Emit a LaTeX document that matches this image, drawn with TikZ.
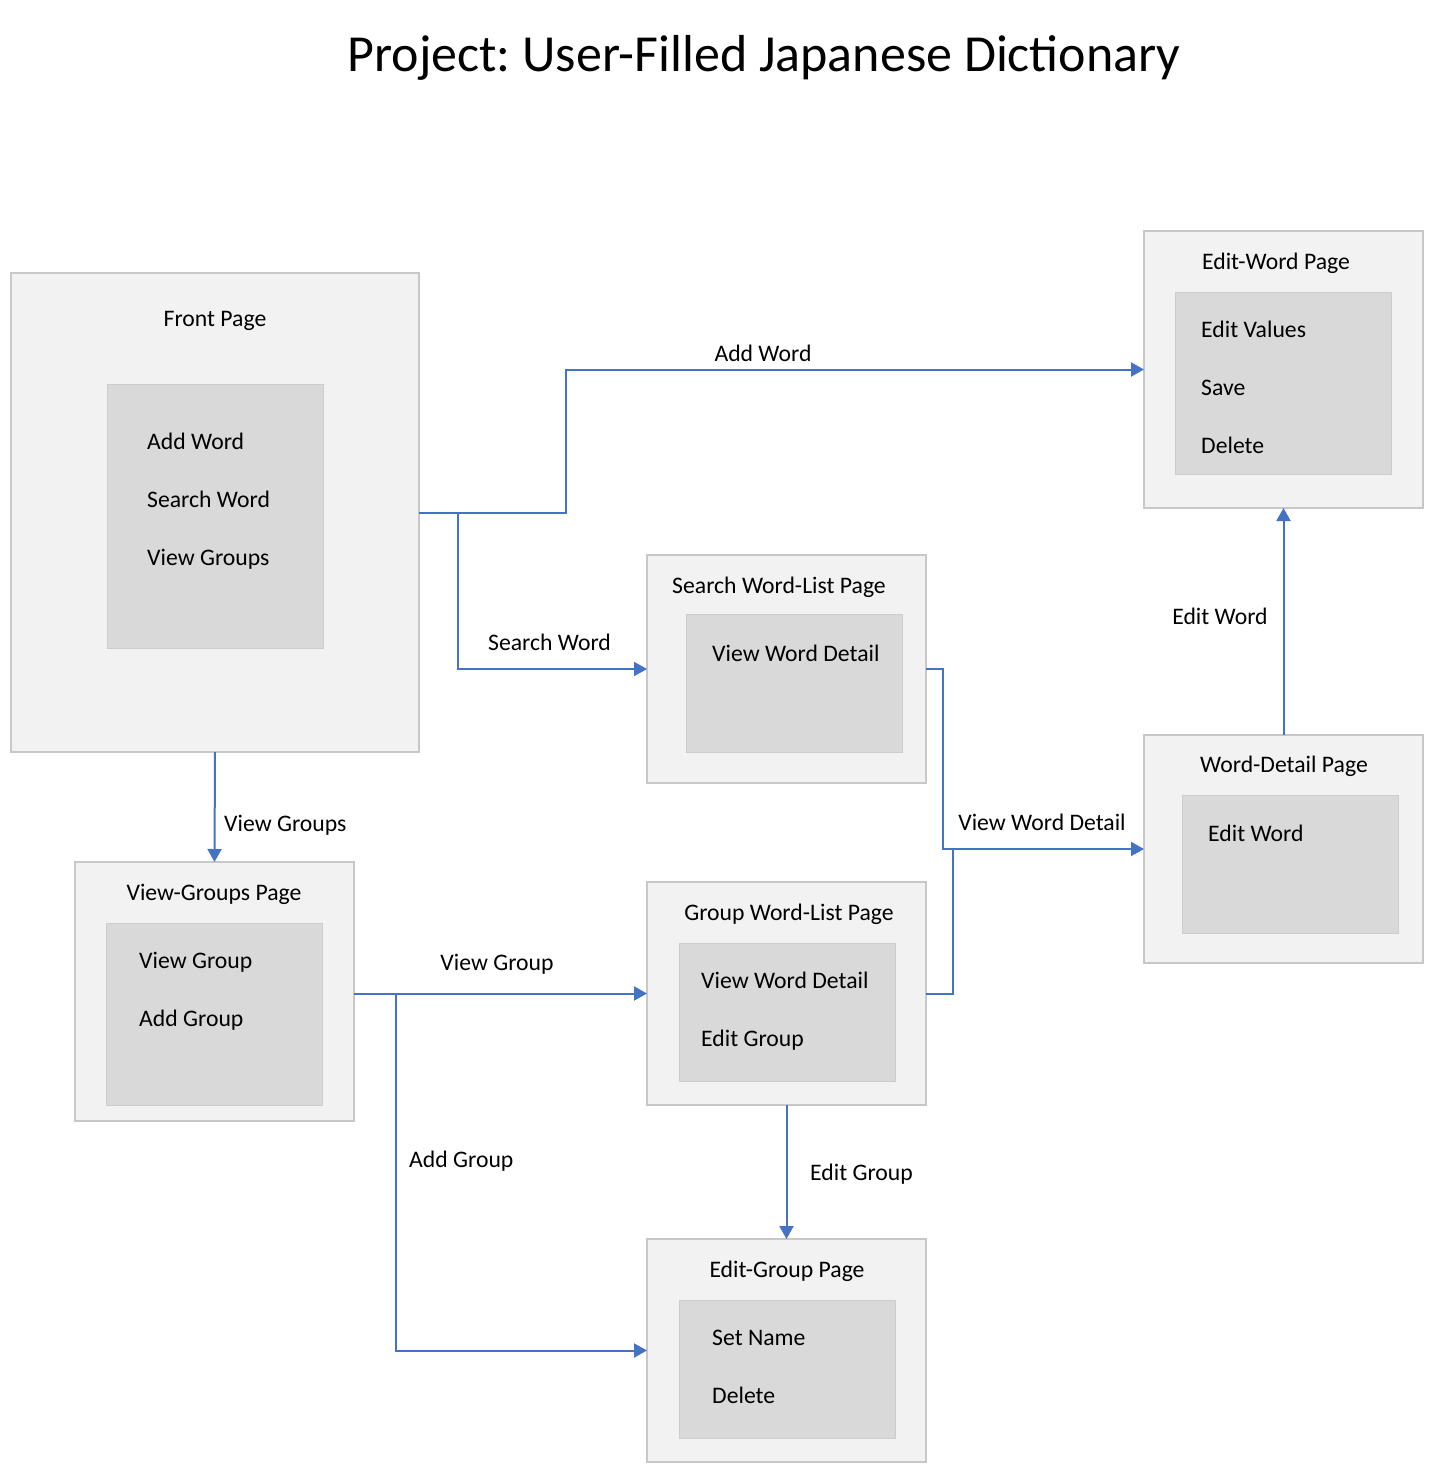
\documentclass[tikz,border=0pt]{standalone}
\usepackage{fontspec}
\setmainfont{Carlito}
\usetikzlibrary{arrows.meta}
\definecolor{pagefill}{HTML}{F2F2F2}
\definecolor{pageborder}{HTML}{C8C8C8}
\definecolor{innerfill}{HTML}{D9D9D9}
\definecolor{innerborder}{HTML}{CCCCCC}
\definecolor{linkblue}{HTML}{4472C4}
\frenchspacing
\begin{document}
\begin{tikzpicture}[x=1pt,y=-1pt,
  page/.style={draw=pageborder, fill=pagefill, line width=2pt, inner sep=0pt, outer sep=0pt},
  inner/.style={draw=innerborder, fill=innerfill, line width=1pt, inner sep=0pt, outer sep=0pt},
  txt/.style={font=\fontsize{23.7}{28}\selectfont, inner sep=0pt, text=black},
  ttl/.style={txt, anchor=base},
  itm/.style={txt, anchor=base west},
  conn/.style={draw=linkblue, line width=2pt, -{Triangle[length=13pt,width=14pt]}},
  connplain/.style={draw=linkblue, line width=2pt}
]
\useasboundingbox (0,0) rectangle (1434,1474);
\fill[white] (0,0) rectangle (1434,1474);

% Title
\node[font=\fontsize{52}{60}\selectfont, anchor=base, inner sep=0pt] (title) at (764,72) {Project: User-Filled Japanese Dictionary};

% Front Page
\node[page, minimum width=408pt, minimum height=479pt] (front) at (215,512.5) {};
\node[inner, minimum width=216pt, minimum height=264pt] (frontin) at (215,516) {};
\node[ttl] (frontt) at (215,326) {Front Page};
\node[itm] (fa) at (147,449) {Add Word};
\node[itm] (fb) at (147,507) {Search Word};
\node[itm] (fc) at (147,565) {View Groups};

% Edit-Word Page
\node[page, minimum width=279pt, minimum height=277pt] (ew) at (1283.5,369.5) {};
\node[inner, minimum width=216pt, minimum height=182pt] (ewin) at (1283,383) {};
\node[ttl] (ewt) at (1276,269) {Edit-Word Page};
\node[itm] (ewa) at (1201,337) {Edit Values};
\node[itm] (ewb) at (1201,395) {Save};
\node[itm] (ewc) at (1201,453) {Delete};

% Search Word-List Page
\node[page, minimum width=279pt, minimum height=228pt] (swl) at (786.5,669) {};
\node[inner, minimum width=216pt, minimum height=138pt] (swlin) at (794,683) {};
\node[ttl] (swlt) at (779,593) {Search Word-List Page};
\node[itm] (swla) at (712,661) {View Word Detail};

% Word-Detail Page
\node[page, minimum width=279pt, minimum height=228pt] (wd) at (1283.5,849) {};
\node[inner, minimum width=216pt, minimum height=138pt] (wdin) at (1290,864) {};
\node[ttl] (wdt) at (1284,772) {Word-Detail Page};
\node[itm] (wda) at (1208,841) {Edit Word};

% View-Groups Page
\node[page, minimum width=279pt, minimum height=259pt] (vg) at (214.5,991.5) {};
\node[inner, minimum width=216pt, minimum height=182pt] (vgin) at (214,1014) {};
\node[ttl] (vgt) at (214,900) {View-Groups Page};
\node[itm] (vga) at (139,968) {View Group};
\node[itm] (vgb) at (139,1026) {Add Group};

% Group Word-List Page
\node[page, minimum width=279pt, minimum height=223pt] (gwl) at (786.5,993.5) {};
\node[inner, minimum width=216pt, minimum height=138pt] (gwlin) at (787,1012) {};
\node[ttl] (gwlt) at (789,920) {Group Word-List Page};
\node[itm] (gwla) at (701,988) {View Word Detail};
\node[itm] (gwlb) at (701,1046) {Edit Group};

% Edit-Group Page
\node[page, minimum width=279pt, minimum height=223pt] (eg) at (786.5,1350.5) {};
\node[inner, minimum width=216pt, minimum height=138pt] (egin) at (787,1369) {};
\node[ttl] (egt) at (787,1277) {Edit-Group Page};
\node[itm] (ega) at (712,1345) {Set Name};
\node[itm] (egb) at (712,1403) {Delete};

% Connectors
\coordinate (jfront) at (458,512.5);
\draw[conn] (front.east) -- (566,512.5) |- (ew.west);
\draw[conn] (jfront) |- (swl.west);
\draw[conn] (front.south) -- (vg.north);
\draw[conn] (vg.east |- gwl.west) -- (gwl.west);
\coordinate (jvg) at (367,993.5);
\draw[conn] (jvg) -- (396,993.5) |- (eg.west);
\draw[conn] (swl.east) -- (943,669) |- (wd.west);
\draw[connplain] (gwl.east) -| (953,849);
\draw[conn] (gwl.south) -- (eg.north);
\draw[conn] (wd.north) -- (ew.south);

% Connector labels
\node[ttl] (lbladd) at (763,361) {Add Word};
\node[ttl] (lblsearch) at (549.5,650) {Search Word};
\node[itm] (lblgroups) at (224,831) {View Groups};
\node[ttl] (lblgroup) at (497,970) {View Group};
\node[itm] (lbladdg) at (409,1167) {Add Group};
\node[ttl] (lblvwd) at (1042,830) {View Word Detail};
\node[itm] (lbleditg) at (810,1180) {Edit Group};
\node[ttl] (lbleditw) at (1220,624) {Edit Word};
\end{tikzpicture}
\end{document}
